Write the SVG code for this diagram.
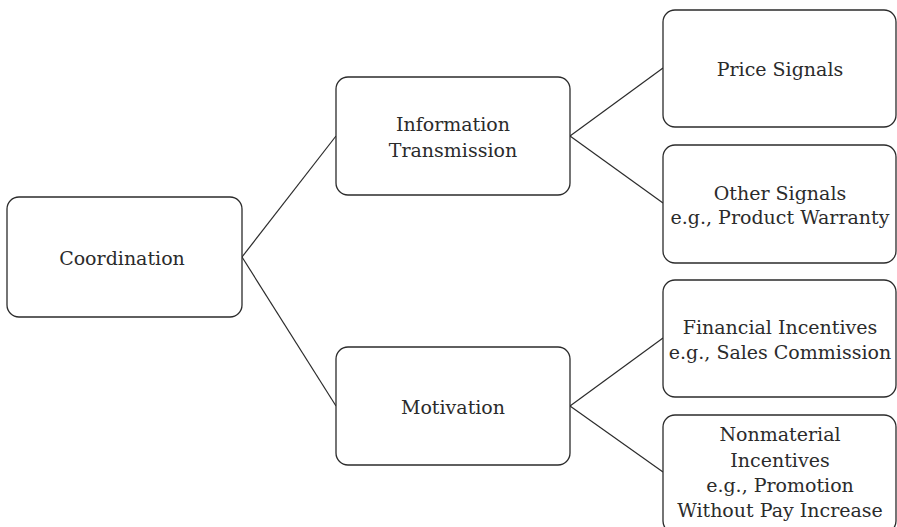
<svg xmlns="http://www.w3.org/2000/svg" width="897" height="527" viewBox="0 0 897 527">
<style>
.box{fill:#fff;stroke:#2b2b2b;stroke-width:1.3}
.lbl{font-family:"DejaVu Serif","Liberation Serif",serif;font-size:19px;fill:#2b2b2b;text-anchor:middle}
.conn line{stroke:#2b2b2b;stroke-width:1.2}
</style>
<rect width="897" height="527" fill="#fff"/>
<g class="conn" id="connectors">
<line x1="242" y1="257" x2="336" y2="136"/>
<line x1="242" y1="257" x2="336" y2="406"/>
<line x1="570" y1="136" x2="663" y2="68"/>
<line x1="570" y1="136" x2="663" y2="203"/>
<line x1="570" y1="406" x2="663" y2="338"/>
<line x1="570" y1="406" x2="663" y2="472"/>
</g>
<g id="coordination"><rect class="box" x="7" y="197" width="235" height="120" rx="12"/><text class="lbl" x="122" y="265">Coordination</text></g>
<g id="information"><rect class="box" x="336" y="77" width="234" height="118" rx="12"/><text class="lbl" x="453" y="131">Information</text><text class="lbl" x="453" y="157">Transmission</text></g>
<g id="motivation"><rect class="box" x="336" y="347" width="234" height="118" rx="12"/><text class="lbl" x="453" y="414">Motivation</text></g>
<g id="price"><rect class="box" x="663" y="10" width="233" height="117" rx="12"/><text class="lbl" x="780" y="76">Price Signals</text></g>
<g id="other"><rect class="box" x="663" y="145" width="233" height="118" rx="12"/><text class="lbl" x="780" y="200">Other Signals</text><text class="lbl" x="780" y="224">e.g., Product Warranty</text></g>
<g id="financial"><rect class="box" x="663" y="280" width="233" height="117" rx="12"/><text class="lbl" x="780" y="334">Financial Incentives</text><text class="lbl" x="780" y="359">e.g., Sales Commission</text></g>
<g id="nonmaterial"><rect class="box" x="663" y="415" width="233" height="118" rx="12"/><text class="lbl" x="780" y="441">Nonmaterial</text><text class="lbl" x="780" y="467">Incentives</text><text class="lbl" x="780" y="492">e.g., Promotion</text><text class="lbl" x="780" y="517">Without Pay Increase</text></g>
</svg>
